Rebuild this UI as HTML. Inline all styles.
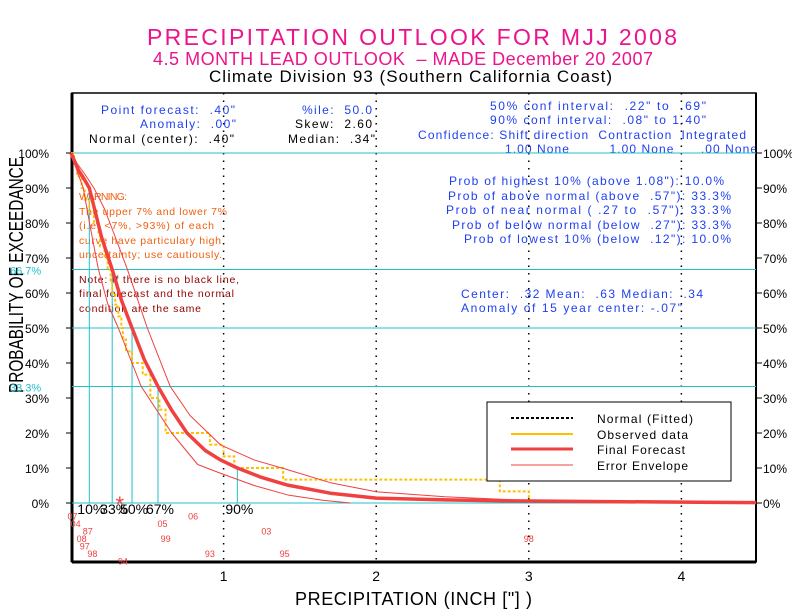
<!DOCTYPE html>
<html><head><meta charset="utf-8"><style>
body{margin:0;background:#fff;}
svg{display:block;font-family:"Liberation Sans",sans-serif;}
text{white-space:pre;}
</style></head><body>
<svg id="chart" width="792" height="612" viewBox="0 0 792 612">
<g>
<text x="147" y="45" textLength="530" font-size="23" fill="#ec148c">PRECIPITATION OUTLOOK FOR MJJ 2008</text>
<text x="153" y="65" textLength="500" font-size="18" fill="#ec148c">4.5 MONTH LEAD OUTLOOK  – MADE December 20 2007</text>
<text x="209" y="82" textLength="403" font-size="17" fill="#000">Climate Division 93 (Southern California Coast)</text>
</g>
<text transform="translate(23,393) rotate(-90)" textLength="236" lengthAdjust="spacingAndGlyphs" font-size="20" fill="#000">PROBABILITY OF EXCEEDANCE</text>
<text x="295" y="605" textLength="237" font-size="18" fill="#000">PRECIPITATION (INCH ["] )</text>
<g font-size="12" fill="#2040f0">
<text x="101" y="114" textLength="134">Point forecast:  .40"</text>
<text x="140" y="128" textLength="96">Anomaly:  .00"</text>
<text x="89" y="143" textLength="145" fill="#000">Normal (center):  .40"</text>
<text x="302" y="114" textLength="70">%ile:  50.0</text>
<text x="295" y="128" textLength="77" fill="#000">Skew:  2.60</text>
<text x="288" y="143" textLength="87" fill="#000">Median:  .34"</text>
<text x="490" y="110" textLength="216">50% conf interval:  .22" to  .69"</text>
<text x="490" y="124" textLength="216">90% conf interval:  .08" to 1.40"</text>
<text x="418" y="139" textLength="328">Confidence: Shift direction  Contraction  Integrated</text>
<text x="505" y="153" textLength="252">1.00 None         1.00 None      .00 None</text>
<text x="449" y="185" textLength="275">Prob of highest 10% (above 1.08"): 10.0%</text>
<text x="448" y="200" textLength="283">Prob of above normal (above  .57"): 33.3%</text>
<text x="446" y="214" textLength="285">Prob of near normal ( .27 to  .57"): 33.3%</text>
<text x="452" y="229" textLength="279">Prob of below normal (below  .27"): 33.3%</text>
<text x="464" y="243" textLength="267">Prob of lowest 10% (below  .12"): 10.0%</text>
<text x="461" y="298" textLength="242">Center:  .32 Mean:  .63 Median:  .34</text>
<text x="461" y="312" textLength="221">Anomaly of 15 year center: -.07"</text>
</g>
<g font-size="10.5" fill="#f06010">
<text x="79" y="200" textLength="48">WARNING:</text>
<text x="79" y="215" textLength="148">The upper 7% and lower 7%</text>
<text x="79" y="229" textLength="135">(i.e. &lt;7%, &gt;93%) of each</text>
<text x="79" y="244" textLength="142">curve have particulary high</text>
<text x="79" y="258" textLength="143">uncertainty; use cautiously.</text>
</g>
<g font-size="10.5" fill="#900000">
<text x="79" y="283" textLength="160">Note: If there is no black line,</text>
<text x="79" y="297" textLength="155">final forecast and the normal</text>
<text x="79" y="312" textLength="122">condition are the same</text>
</g>
<g id="plot"></g>
<g>
<rect x="487" y="402" width="244" height="79" fill="#fff" stroke="#000" stroke-width="1"/>
<line x1="511" y1="418" x2="573" y2="418" stroke="#000" stroke-width="2" stroke-dasharray="3,2"/>
<line x1="511" y1="434" x2="573" y2="434" stroke="#ffc000" stroke-width="2"/>
<line x1="511" y1="449" x2="573" y2="449" stroke="#f04040" stroke-width="3"/>
<line x1="511" y1="465" x2="573" y2="465" stroke="#f04040" stroke-width="1"/>
<g font-size="12" fill="#000">
<text x="597" y="423" textLength="96">Normal (Fitted)</text>
<text x="597" y="439" textLength="91">Observed data</text>
<text x="597" y="454" textLength="88">Final Forecast</text>
<text x="597" y="470" textLength="91">Error Envelope</text>
</g>
</g>
</svg>
<script>
const yTicks = [0,10,20,30,40,50,60,70,80,90,100];
const xTicks = [1,2,3,4];
const refLevels = [100,66.7,50,33.3,0];
const pctLabels = ["10%","33%","50%","67%","90%"];
const pctValues = [0.12,0.27,0.40,0.57,1.09];
const pctExceed = [90,66.7,50,33.3,10];
const fcX = [0,0.02,0.05,0.08,0.12,0.16,0.20,0.27,0.33,0.40,0.48,0.57,0.66,0.76,0.88,0.98,1.09,1.25,1.42,1.7,2.0,2.45,2.9,3.5,4.0,4.49];
const fcP = [100,98,95,93,90,83,76,66.7,58,50,41,33.3,26.5,20,15,12.3,10,7.3,5.1,2.8,1.4,0.9,0.6,0.4,0.25,0.1];
const upX = [0,0.04,0.09,0.15,0.22,0.29,0.37,0.50,0.65,0.78,0.98,1.2,1.42,1.7,2.0,2.45,2.9,3.5,4.0,4.49];
const upP = [100,97,94,90,84,76,66.7,50,33.3,25,16.6,12.3,9.5,5.8,3.2,1.8,0.9,0.5,0.3,0.2];
const loX = [0,0.03,0.08,0.13,0.18,0.24,0.31,0.46,0.66,0.83,0.98,1.2,1.42,1.65,1.83];
const loP = [100,96,90,78,66.7,57,50,33.3,20,11,8.5,5,2.3,0.8,0];
const obsValues = [3.0,2.81,1.39,1.07,1.0,0.91,0.62,0.62,0.58,0.52,0.52,0.47,0.40,0.36,0.34,0.33,0.31,0.29,0.27,0.26,0.24,0.22,0.19,0.18,0.15,0.12,0.09,0.07,0.04,0.02];
const yearLabels = ["07","04","87","08","97","98","94","05","06","99","93","03","95","98"];
const yearValues = [0.01,0.03,0.11,0.07,0.09,0.14,0.34,0.60,0.80,0.62,0.91,1.28,1.40,3.0];
const yearRows = [1,2,3,4,5,6,7,2,1,4,6,3,6,4];
const starValue = 0.32;

const X0=71, XS=152.6, Y0=503, YS=3.5, LEFT=72, RIGHT=756, TOP=93, BOT=562;
const sx = v => X0 + v*XS;
const sy = p => Y0 - p*YS;
const NS='http://www.w3.org/2000/svg';
const plot=document.getElementById('plot');
function mk(tag, attrs, parent){const e=document.createElementNS(NS,tag);for(const k in attrs)e.setAttribute(k,attrs[k]);(parent||plot).appendChild(e);return e;}

let fr=mk('rect',{x:LEFT,y:TOP,width:RIGHT-LEFT,height:BOT-TOP,fill:'none',stroke:'#000','stroke-width':1.5});


let ax=mk('line',{x1:LEFT,y1:TOP,x2:LEFT,y2:BOT,stroke:'#000','stroke-width':3});


let ax2=mk('line',{x1:RIGHT,y1:TOP,x2:RIGHT,y2:BOT,stroke:'#000','stroke-width':2});


let ax3=mk('line',{x1:LEFT,y1:BOT,x2:RIGHT,y2:BOT,stroke:'#000','stroke-width':3});



xTicks.forEach(v=>{
  let l=mk('line',{x1:sx(v),y1:TOP,x2:sx(v),y2:BOT,stroke:'#000','stroke-width':1.5,'stroke-dasharray':'1.5,6'});
  
  
  let t=mk('text',{x:sx(v),y:581,'text-anchor':'middle','font-size':14,fill:'#000'});
  t.textContent=v;
  
  
});
yTicks.forEach(p=>{
  let a=mk('line',{x1:LEFT-6,y1:sy(p),x2:LEFT,y2:sy(p),stroke:'#000','stroke-width':1});
  
  
  let b=mk('line',{x1:RIGHT,y1:sy(p),x2:RIGHT+6,y2:sy(p),stroke:'#000','stroke-width':1});
  
  
  let t=mk('text',{x:49,y:sy(p)+5,'text-anchor':'end','font-size':12,fill:'#000'});
  t.textContent=p+'%';
  
  
  let t2=mk('text',{x:763,y:sy(p)+5,'font-size':12,fill:'#000'});
  t2.textContent=p+'%';
  
  
});
refLevels.forEach(p=>{
  let l=mk('line',{x1:LEFT,y1:sy(p),x2:RIGHT,y2:sy(p),stroke:'#20c0c8','stroke-width':1});
  
  
});
[[66.7,'66.7%'],[33.3,'33.3%']].forEach(([p,s])=>{
  let t=mk('text',{x:10,y:sy(p)+5,'font-size':11,fill:'#20c0c8'});
  t.textContent=s;
  
  
});
pctValues.forEach((v,i)=>{
  let l=mk('line',{x1:sx(v),y1:sy(pctExceed[i]),x2:sx(v),y2:Y0,stroke:'#20c0c8','stroke-width':1});
  
  
  let t=mk('text',{x:sx(v)-12,y:514,'font-size':14,fill:'#000'});
  t.textContent=pctLabels[i];
  
  
});
let d='M'+sx(0)+','+sy(100);
const n=obsValues.length;
for(let k=n;k>=1;k--){
  const v=obsValues[k-1];
  d+=' H'+sx(v)+' V'+sy((k-1)/n*100);
}
let obs=mk('path',{d:d,fill:'none',stroke:'#ffc000','stroke-width':2,'stroke-dasharray':'3,2'});


function curve(xs,ps){
  return 'M'+xs.map((v,i)=>sx(v)+','+sy(ps[i])).join(' L');
}
let up=mk('path',{d:curve(upX,upP),fill:'none',stroke:'#f04040','stroke-width':1,'stroke-linejoin':'round'});


let lo=mk('path',{d:curve(loX,loP),fill:'none',stroke:'#f04040','stroke-width':1,'stroke-linejoin':'round'});


let fc=mk('path',{d:curve(fcX,fcP),fill:'none',stroke:'#f04040','stroke-width':3.5,'stroke-linejoin':'round'});


let st=mk('text',{x:sx(starValue),y:Y0+9,'text-anchor':'middle','font-size':22,fill:'#f04040'});
st.textContent='*';


yearLabels.forEach((y,i)=>{
  let t=mk('text',{x:sx(yearValues[i]),y:512+yearRows[i]*7.5,'text-anchor':'middle','font-size':9,fill:'#f04040'});
  t.textContent=y;
  
  
});
</script>
</body></html>
